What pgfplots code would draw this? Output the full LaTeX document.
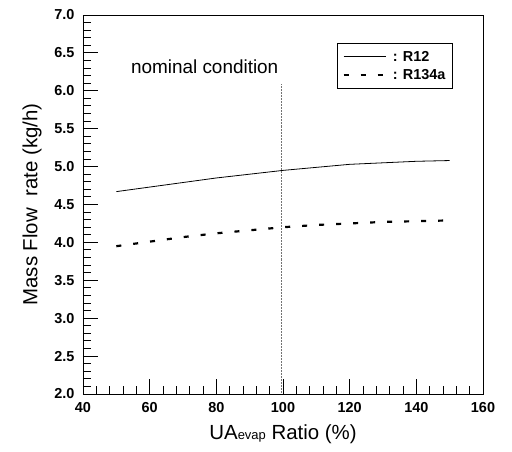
\documentclass[border=0pt]{standalone}
\usepackage{pgfplots}
\pgfplotsset{compat=1.18}
\usepackage{fontspec}
\setmainfont{Liberation Sans}
\begin{document}
\begin{tikzpicture}
\path[use as bounding box] (-83bp,-58bp) rectangle (429bp,394bp);
\begin{axis}[
  scale only axis, width=400bp, height=379bp,
  xmin=40, xmax=160, ymin=2.0, ymax=7.0,
  xtick={40,60,...,160}, ytick={2.0,2.5,...,7.0},
  minor x tick num=4, minor y tick num=4,
  tick pos=left, tick align=inside,
  major tick length=15bp, minor tick length=8bp,
  tick style={black, line width=1pt},
  axis line style={line width=1pt},
  /pgf/number format/assume math mode=true,
  /pgf/number format/.cd, fixed, fixed zerofill, precision=1, /pgfplots/.cd,
  xticklabel style={font=\bfseries\fontsize{14.5}{16}\selectfont, yshift=-5bp, /pgf/number format/precision=0, /pgf/number format/fixed zerofill=false},
  yticklabel style={font=\bfseries\fontsize{14.5}{16}\selectfont, xshift=-5bp},
  xlabel={UA{\fontsize{13}{14}\selectfont evap} Ratio (\%)},
  ylabel={Mass\ Flow\ \ rate (kg/h)},
  label style={font=\fontsize{20.5}{23}\selectfont},
  xlabel style={yshift=-5bp},
  ylabel style={yshift=6bp},
  legend style={at={(0.925,0.925)}, anchor=north east, draw=black, line width=1pt,
    font=\bfseries\fontsize{14.5}{16}\selectfont, row sep=3bp, inner xsep=5bp, inner ysep=5bp},
  legend cell align=left,
  legend image code/.code={\draw[#1] (0bp,0bp) -- (42bp,0bp);},
]
\addplot[black, line width=0.8pt] coordinates {
 (50,4.67) (60,4.73) (70,4.79) (80,4.85) (90,4.90) (100,4.95) (110,4.99) (120,5.03) (130,5.05) (140,5.07) (150,5.08)};
\addlegendentry{\ : R12}
\addplot[black, line width=2.2pt, dash pattern=on 5bp off 12bp] coordinates {
 (50,3.95) (60,4.01) (70,4.07) (80,4.12) (90,4.16) (100,4.20) (110,4.23) (120,4.25) (130,4.27) (140,4.28) (150,4.29)};
\addlegendentry{\ : R134a}
\addplot[black!55, line width=0.5pt, densely dotted, forget plot] coordinates {(99.5,2.0) (99.5,6.1)};
\node[font=\fontsize{19}{22}\selectfont] at (axis cs:76.5,6.32) {nominal condition};
\end{axis}
\end{tikzpicture}
\end{document}
